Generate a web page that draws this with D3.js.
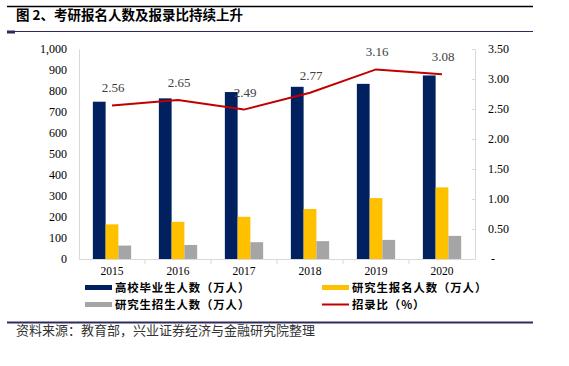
<!DOCTYPE html>
<html>
<head>
<meta charset="utf-8">
<script src="https://cdn.jsdelivr.net/npm/d3@7"></script>
<style>
  html, body { margin: 0; padding: 0; background: #fff; }
  svg { display: block; }
</style>
</head>
<body>
<svg id="chart" width="569" height="366"></svg>
<script>
// ---- data ----
const years = ["2015", "2016", "2017", "2018", "2019", "2020"];
const graduates = [749, 765, 795, 820, 834, 874];      // 高校毕业生人数（万人）
const applicants = [165, 177, 201, 238, 290, 341];     // 研究生报名人数（万人）
const admitted = [64, 67, 80, 85, 91, 110];            // 研究生招生人数（万人）
const ratio = [2.56, 2.65, 2.49, 2.77, 3.16, 3.08];    // 招录比（%）
const leftTicks = [0, 100, 200, 300, 400, 500, 600, 700, 800, 900, 1000];
const rightTicks = [0, 0.5, 1.0, 1.5, 2.0, 2.5, 3.0, 3.5];
const seriesNames = ["高校毕业生人数（万人）", "研究生报名人数（万人）", "研究生招生人数（万人）", "招录比（%）"];
const titleText = "图 2、考研报名人数及报录比持续上升";
const sourceText = "资料来源：教育部，兴业证券经济与金融研究院整理";

const colors = ["#002060", "#FFC000", "#A5A5A5", "#C00000"];
const serif = "'Liberation Serif', 'Times New Roman', serif";
const cjk = "'Noto Sans CJK SC', sans-serif";

const svg = d3.select("#chart");
svg.append("rect").attr("width", 569).attr("height", 366).attr("fill", "#fff");

// header / footer rules
svg.append("line").attr("x1", 7).attr("x2", 533).attr("y1", 6.5).attr("y2", 6.5)
  .attr("stroke", "#000").attr("stroke-width", 1.5);
svg.append("line").attr("x1", 7).attr("x2", 533).attr("y1", 31.5).attr("y2", 31.5)
  .attr("stroke", "#2E2A5E").attr("stroke-width", 1.2);
svg.append("rect").attr("x", 7).attr("y", 30.5).attr("width", 8).attr("height", 3).attr("fill", "#2E2A5E");
svg.append("line").attr("x1", 7).attr("x2", 533).attr("y1", 322.5).attr("y2", 322.5)
  .attr("stroke", "#2E2A5E").attr("stroke-width", 1.8);

svg.append("text").attr("x", 16).attr("y", 20).text(titleText)
  .attr("font-family", cjk).attr("font-weight", 700).attr("font-size", 13.5).attr("fill", "#000");
svg.append("text").attr("x", 16).attr("y", 335).text(sourceText)
  .attr("font-family", cjk).attr("font-size", 13).attr("fill", "#333");

// ---- scales ----
const x0 = d3.scaleBand().domain(years).range([79, 475]).paddingInner(0.42).paddingOuter(0.21);
const x1 = d3.scaleBand().domain([0, 1, 2]).range([0, x0.bandwidth()]);
const yL = d3.scaleLinear().domain([0, 1000]).range([259, 49]);
const yR = d3.scaleLinear().domain([0, 3.5]).range([259, 49]);

// ---- axes ----
const axisColor = "#D9D9D9";
const gL = svg.append("g").attr("transform", "translate(79,0)")
  .call(d3.axisLeft(yL).tickValues(leftTicks).tickSize(0).tickPadding(12).tickFormat(d3.format(",")));
const gR = svg.append("g").attr("transform", "translate(475,0)")
  .call(d3.axisRight(yR).tickValues(rightTicks).tickSize(-3).tickSizeOuter(0).tickPadding(13)
    .tickFormat(d => d === 0 ? "-" : d3.format(".2f")(d)));
gR.selectAll(".tick text").filter(d => d === 0).attr("dx", 3);
const gX = svg.append("g").attr("transform", "translate(0,259)")
  .call(d3.axisBottom(x0).tickSize(0).tickPadding(8));
[gL, gR, gX].forEach(g => {
  g.select(".domain").attr("stroke", axisColor);
  g.selectAll(".tick line").attr("stroke", axisColor);
  g.selectAll(".tick text").attr("font-family", serif).attr("font-size", 12).attr("fill", "#000");
});
gX.selectAll(".tick text").attr("font-size", 11.5);
// category boundary ticks
const step = x0.step();
const bounds = years.slice(1).map(y => x0(y) - x0.paddingInner() * step / 2);
svg.append("g").selectAll("line").data(bounds).join("line")
  .attr("x1", d => d).attr("x2", d => d).attr("y1", 259).attr("y2", 264)
  .attr("stroke", axisColor);

// ---- bars ----
const barSeries = [graduates, applicants, admitted];
const rows = years.map((y, i) => ({ year: y, vals: barSeries.map(s => s[i]) }));
const groups = svg.append("g").selectAll("g").data(rows).join("g")
  .attr("transform", d => `translate(${x0(d.year)},0)`);
groups.selectAll("rect").data(d => d.vals.map((v, k) => ({ v, k }))).join("rect")
  .attr("x", d => x1(d.k)).attr("width", x1.bandwidth())
  .attr("y", d => yL(d.v)).attr("height", d => yL(0) - yL(d.v))
  .attr("fill", d => colors[d.k]);

// ---- line ----
const cx = y => x0(y) + x0.bandwidth() / 2;
const line = d3.line().x((d, i) => cx(years[i])).y(d => yR(d));
svg.append("path").datum(ratio).attr("d", line)
  .attr("fill", "none").attr("stroke", colors[3]).attr("stroke-width", 2);
svg.append("g").selectAll("text").data(ratio).join("text")
  .attr("x", (d, i) => cx(years[i]) + 1).attr("y", d => yR(d) - 13)
  .attr("text-anchor", "middle").text(d => d3.format(".2f")(d))
  .attr("font-family", serif).attr("font-size", 13).attr("fill", "#404040");

// ---- legend ----
const legendPos = [
  { x: 85, y: 287.5, type: "rect" },
  { x: 322, y: 287.5, type: "rect" },
  { x: 85, y: 304.5, type: "rect" },
  { x: 322, y: 304.5, type: "line" }
];
const lg = svg.append("g").selectAll("g").data(seriesNames).join("g")
  .attr("transform", (d, i) => `translate(${legendPos[i].x},${legendPos[i].y})`);
lg.each(function (d, i) {
  const g = d3.select(this);
  if (legendPos[i].type === "rect") {
    g.append("rect").attr("x", 0).attr("y", -2.5).attr("width", 27).attr("height", 5).attr("fill", colors[i]);
  } else {
    g.append("line").attr("x1", 0).attr("x2", 27).attr("y1", 0).attr("y2", 0)
      .attr("stroke", colors[i]).attr("stroke-width", 2);
  }
  g.append("text").attr("x", 30).attr("y", 0).attr("dy", "0.36em").text(d)
    .attr("font-family", cjk).attr("font-weight", 700).attr("font-size", 11.4)
    .attr("letter-spacing", 0.9).attr("fill", "#000");
});
</script>
</body>
</html>
